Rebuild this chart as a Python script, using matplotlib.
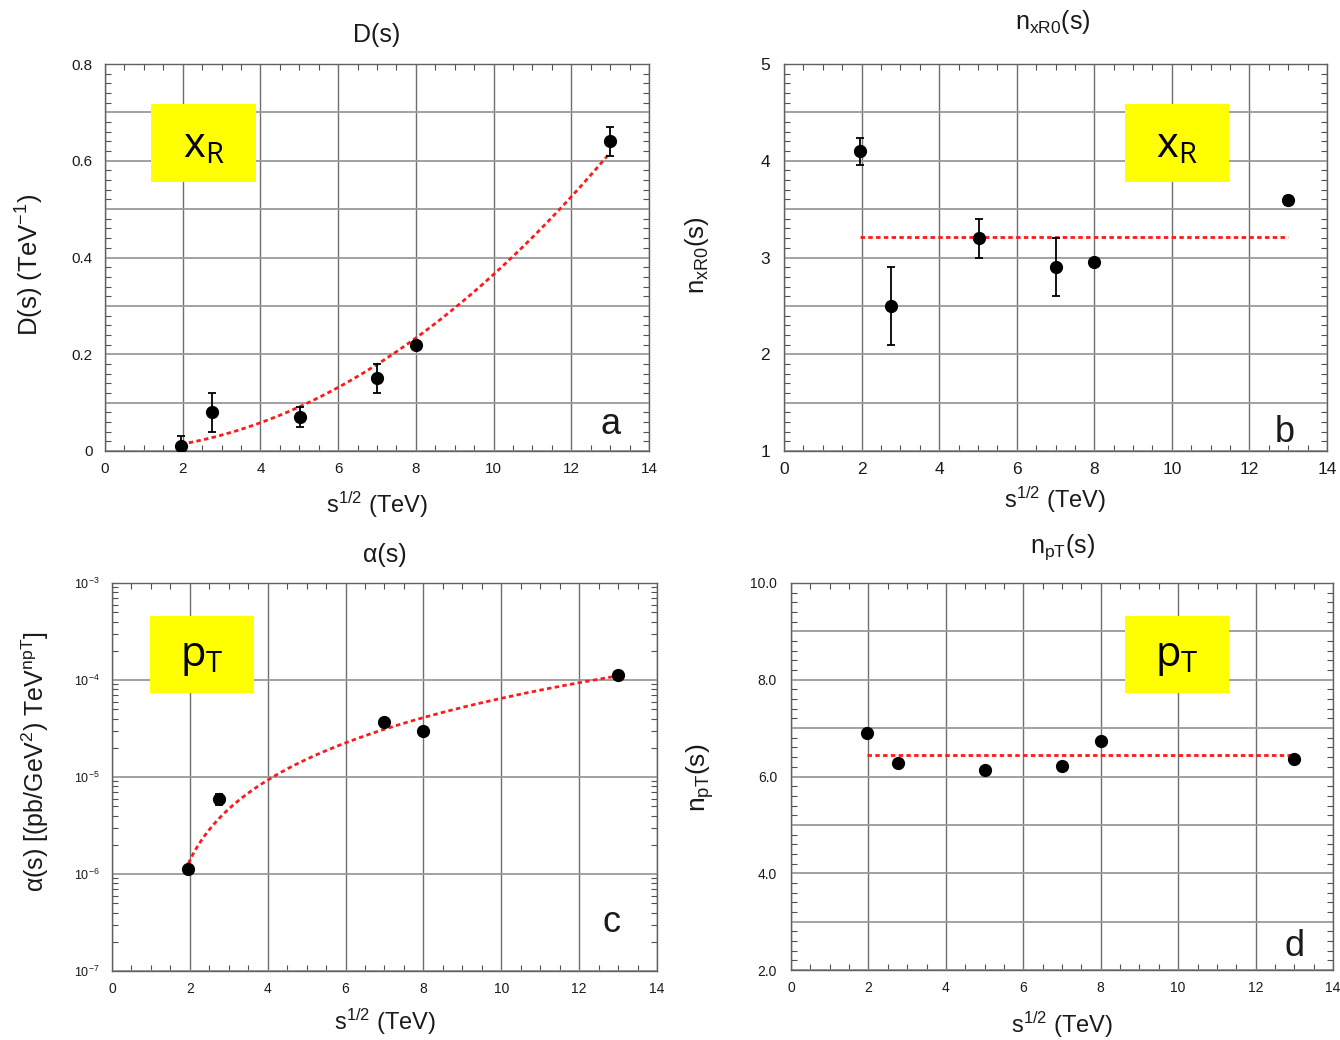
import numpy as np
import matplotlib
matplotlib.use("Agg")
import matplotlib.pyplot as plt
from matplotlib.patches import Rectangle
from matplotlib.ticker import MultipleLocator, LogLocator, NullFormatter, FuncFormatter

plt.rcParams["font.family"] = ["Liberation Sans", "DejaVu Sans"]
plt.rcParams["mathtext.fontset"] = "custom"
plt.rcParams["mathtext.rm"] = "Liberation Sans"
plt.rcParams["mathtext.it"] = "Liberation Sans:italic"
plt.rcParams["mathtext.bf"] = "Liberation Sans:bold"

# ---------------- data ----------------
# collision energies sqrt(s) in TeV
energies_x = [1.96, 2.76, 5.02, 7.0, 8.0, 13.0]
energies_pt = [1.96, 2.76, 5.02, 7.0, 8.0, 13.0]
energies_alpha = [1.96, 2.76, 7.0, 8.0, 13.0]

# (a) D(s) for the x_R scaling
D_vals = [0.01, 0.08, 0.07, 0.15, 0.22, 0.64]
D_errs = [0.02, 0.04, 0.02, 0.03, 0.0, 0.03]
# (b) n_xR0(s)
nxR0_vals = [4.10, 2.50, 3.20, 2.90, 2.95, 3.59]
nxR0_errs = [0.14, 0.40, 0.20, 0.30, 0.0, 0.05]
# (c) alpha(s) for the p_T scaling
alpha_vals = [1.13e-6, 5.9e-6, 3.7e-5, 3.0e-5, 1.13e-4]
alpha_errs = [0.0, 0.8e-6, 0.0, 0.0, 0.0]
# (d) n_pT(s)
npT_vals = [6.90, 6.28, 6.14, 6.21, 6.73, 6.36]

# fitted parameterisations (s = sqrt(s)^2, TeV^2)
D_fit_coef = 0.00365          # D = c * s
nxR0_fit = 3.21               # constant
alpha_fit_coef = 6.6e-7       # alpha = a * (s - s0)
alpha_fit_s0 = 1.9
npT_fit = 6.44                # constant
fit_range = (1.96, 13.0)

# ---------------- layout helpers ----------------
W, H = 1340, 1040
fig = plt.figure(figsize=(W / 100, H / 100), dpi=100)
fig.patch.set_facecolor("white")


def axes_px(left, top, right, bottom):
    return fig.add_axes([left / W, 1 - bottom / H, (right - left) / W, (bottom - top) / H])


def ftext(x, y, s, **kw):
    return fig.text(x / W, 1 - y / H, s, **kw)


def style_axes(ax, xminor, yminor, tick_size, ypad, xpad, log=False):
    ax.set_xlim(0, 14)
    ax.xaxis.set_major_locator(MultipleLocator(2))
    ax.xaxis.set_minor_locator(MultipleLocator(xminor))
    if not log:
        ax.yaxis.set_minor_locator(MultipleLocator(yminor))
    ax.tick_params(which="both", direction="in", top=True, right=True, colors="#505050",
                   labelcolor="#1a1a1a", labelsize=tick_size)
    ax.tick_params(which="major", length=0)
    ax.tick_params(which="minor", length=4, width=0.8)
    ax.tick_params(axis="y", pad=ypad)
    ax.tick_params(axis="x", pad=xpad)
    ax.xaxis.grid(True, which="major", color="#6e6e6e", lw=1.0)
    ax.yaxis.grid(True, which="major", color="#9a9a9a", lw=1.3)
    ax.set_axisbelow(True)
    for sp in ax.spines.values():
        sp.set_color("#606060")
        sp.set_linewidth(1.0)


def yellow_box(left, top, right, bottom, label):
    fig.patches.append(Rectangle((left / W, 1 - bottom / H), (right - left) / W, (bottom - top) / H,
                                 transform=fig.transFigure, facecolor="#ffff00",
                                 edgecolor="none", zorder=5))
    ftext((left + right) / 2, (top + bottom) / 2 + 3, label, ha="center", va="center",
          fontsize=30, family="Open Sans", zorder=6)


fit_style = dict(color="#ff1a1a", lw=2.0, linestyle=(0, (1.6, 1.2)), zorder=3)
pt_style = dict(fmt="o", color="black", ms=8.5, elinewidth=1.3, capsize=3, capthick=1.3, zorder=4)

xs = np.linspace(fit_range[0], fit_range[1], 200)

# ---------------- (a) D(s) ----------------
axa = axes_px(105, 64, 649, 451)
style_axes(axa, 0.5, 0.02, 11, 9, 8)
axa.set_ylim(0, 0.8)
axa.yaxis.set_major_locator(MultipleLocator(0.1))
axa.yaxis.set_major_formatter(FuncFormatter(
    lambda v, p: ("0" if abs(v) < 1e-9 else f"{v:.1f}") if round(v * 10) % 2 == 0 else ""))
axa.plot(xs, D_fit_coef * xs ** 2, **fit_style)
axa.errorbar(energies_x, D_vals, yerr=D_errs, **pt_style)

# ---------------- (b) n_xR0(s) ----------------
axb = axes_px(784, 64, 1327, 451)
style_axes(axb, 0.5, 0.1, 12.5, 10, 8)
axb.set_ylim(1, 5)
axb.yaxis.set_major_locator(MultipleLocator(0.5))
axb.yaxis.set_major_formatter(FuncFormatter(
    lambda v, p: f"{v:.0f}" if abs(v - round(v)) < 1e-9 else ""))
axb.plot(xs, np.full_like(xs, nxR0_fit), **fit_style)
axb.errorbar(energies_x, nxR0_vals, yerr=nxR0_errs, **pt_style)

# ---------------- (c) alpha(s) ----------------
axc = axes_px(112, 583, 657, 971)
axc.set_yscale("log")
style_axes(axc, 0.5, None, 10, 9, 8, log=True)
axc.set_ylim(1e-7, 1e-3)
axc.yaxis.set_major_locator(LogLocator(base=10, numticks=10))
axc.yaxis.set_minor_locator(LogLocator(base=10, subs=np.arange(2, 10), numticks=20))
axc.yaxis.set_minor_formatter(NullFormatter())
axc.tick_params(axis="y", which="major", labelsize=9)
axc.plot(xs, alpha_fit_coef * (xs ** 2 - alpha_fit_s0), **fit_style)
axc.errorbar(energies_alpha, alpha_vals, yerr=alpha_errs, **pt_style)

# ---------------- (d) n_pT(s) ----------------
axd = axes_px(791, 583, 1333, 970)
style_axes(axd, 0.5, 0.2, 10, 10, 8)
axd.set_ylim(2, 10)
axd.yaxis.set_major_locator(MultipleLocator(1))
axd.yaxis.set_major_formatter(FuncFormatter(
    lambda v, p: f"{v:.1f}" if round(v) % 2 == 0 else ""))
axd.plot(xs, np.full_like(xs, npT_fit), **fit_style)
axd.errorbar(energies_pt, npT_vals, **pt_style)

# ---------------- titles, axis labels, panel tags ----------------
ttl = dict(ha="center", va="center", fontsize=18, color="#1a1a1a")
ftext(377, 35, "D(s)", **ttl)
ftext(1053, 22, r"n$_{\mathregular{xR0}}$(s)", **ttl)
ftext(385, 555, "α(s)", **ttl)
ftext(1062, 547, r"n$_{\mathregular{pT}}$(s)", **ttl)

lab = dict(ha="center", va="center", fontsize=17, color="#1a1a1a")
xl = r"s$^{\mathregular{1/2}}$ (TeV)"
ftext(377, 505, xl, **lab)
ftext(1055, 500, xl, **lab)
ftext(385, 1022, xl, **lab)
ftext(1062, 1025, xl, **lab)

ylab = dict(ha="center", va="center", rotation=90, color="#1a1a1a")
ftext(30, 265, r"D(s) (TeV$^{\mathregular{-1}}$)", fontsize=18.5, **ylab)
ftext(697, 255, r"n$_{\mathregular{xR0}}$(s)", fontsize=18.5, **ylab)
ftext(35, 762, r"α(s) [(pb/GeV$^{\mathregular{2}}$) TeV$^{\mathregular{npT}}$]", fontsize=18, **ylab)
ftext(700, 778, r"n$_{\mathregular{pT}}$(s)", fontsize=19, **ylab)

tag = dict(ha="center", va="center", fontsize=26, color="#1a1a1a")
ftext(611, 425, "a", **tag)
ftext(1285, 432, "b", **tag)
ftext(611, 923, "c", **tag)
ftext(1294, 947, "d", **tag)

yellow_box(151, 104, 256, 182, r"$\mathregular{x_R}$")
yellow_box(1125, 104, 1229, 182, r"$\mathregular{x_R}$")
yellow_box(150, 616, 254, 693, r"$\mathregular{p_T}$")
yellow_box(1125, 616, 1229, 693, r"$\mathregular{p_T}$")

fig.savefig("out.png", dpi=100, facecolor="white")
